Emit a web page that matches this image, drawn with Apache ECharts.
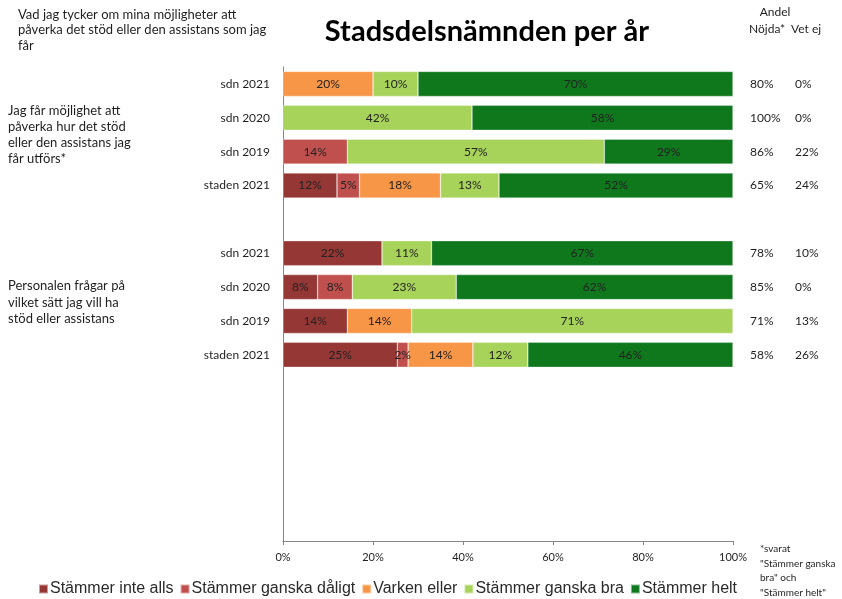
<!DOCTYPE html>
<html>
<head>
<meta charset="utf-8">
<script src="https://cdn.jsdelivr.net/npm/echarts@6/dist/echarts.min.js"></script>
<style>
    html, body { margin: 0; padding: 0; background: #fff; }
    #chart { width: 842px; height: 599px; }
</style>
</head>
<body>
<div id="chart"></div>
<script>
// kategorier uppifrån och ned (tomma platser = mellanrum i diagrammet)
var categories = ['sdn 2021', 'sdn 2020', 'sdn 2019', 'staden 2021', '',
                  'sdn 2021', 'sdn 2020', 'sdn 2019', 'staden 2021', '', '', '', '', ''];
var seriesNames = ['Stämmer inte alls', 'Stämmer ganska dåligt', 'Varken eller', 'Stämmer ganska bra', 'Stämmer helt'];
var inteAlls    = [null, null, null, 12, null, 22, 7.7, 14.3, 25.4, null, null, null, null, null];
var ganskaDalig = [null, null, 14.3, 5, null, null, 7.7, null, 2.4, null, null, null, null, null];
var varkenEller = [20, null, null, 18, null, null, null, 14.3, 14.4, null, null, null, null, null];
var ganskaBra   = [10, 42, 57.1, 13, null, 11, 23.1, 71.4, 12.2, null, null, null, null, null];
var helt        = [70, 58, 28.6, 52, null, 67, 61.5, null, 45.6, null, null, null, null, null];
var nojda = ['80%', '100%', '86%', '65%', '', '78%', '85%', '71%', '58%', '', '', '', '', ''];
var vetEj = ['0%', '0%', '22%', '24%', '', '10%', '0%', '13%', '26%', '', '', '', '', ''];
var xTicks = [0, 20, 40, 60, 80, 100];
var colors = ['#953735', '#C0504D', '#F79646', '#A8D35B', '#0F781D'];

var font = 'Lato, "Open Sans", sans-serif';
var textColor = '#1f1f1f';

var chart = echarts.init(document.getElementById('chart'));

var allData = [inteAlls, ganskaDalig, varkenEller, ganskaBra, helt];
var series = allData.map(function (d, i) {
    return {
        name: seriesNames[i],
        type: 'bar',
        stack: 'total',
        barWidth: 25,
        data: d,
        itemStyle: { color: colors[i], borderColor: 'rgba(255,255,255,0.5)', borderWidth: 0.6 },
        label: {
            show: true,
            position: 'inside',
            color: '#222',
            fontFamily: font,
            fontSize: 12,
            formatter: function (p) { return p.value ? Math.round(p.value) + '%' : ''; }
        },
        emphasis: { disabled: true }
    };
});

var option = {
    animation: false,
    textStyle: { fontFamily: font },
    grid: { left: 283, right: 109, top: 67, bottom: 58, containLabel: false },
    xAxis: {
        type: 'value',
        min: 0,
        max: 100,
        interval: 20,
        axisLine: { show: true, lineStyle: { color: '#868686' } },
        axisTick: { show: true, length: 4, lineStyle: { color: '#868686' } },
        splitLine: { show: false },
        axisLabel: {
            color: textColor, fontSize: 11, margin: 11, fontFamily: font,
            formatter: function (v) { return xTicks.indexOf(v) >= 0 ? v + '%' : ''; }
        }
    },
    yAxis: [{
        type: 'category',
        inverse: true,
        data: categories,
        axisLine: { show: true, lineStyle: { color: '#868686' } },
        axisTick: { show: false },
        axisLabel: { color: textColor, fontSize: 12, margin: 13, fontFamily: font }
    }, {
        type: 'category',
        inverse: true,
        position: 'right',
        data: nojda,
        axisLine: { show: false },
        axisTick: { show: false },
        axisLabel: { color: textColor, fontSize: 12, margin: 17, align: 'left', fontFamily: font, padding: [4, 0, 0, 0] }
    }, {
        type: 'category',
        inverse: true,
        position: 'right',
        data: vetEj,
        axisLine: { show: false },
        axisTick: { show: false },
        axisLabel: { color: textColor, fontSize: 12, margin: 62, align: 'left', fontFamily: font, padding: [0, 0, 2, 0] }
    }],
    legend: {
        data: seriesNames,
        left: 33,
        top: 576,
        itemWidth: 9,
        itemHeight: 9,
        itemGap: 6,
        icon: 'rect',
        textStyle: { fontFamily: '"Liberation Sans", Arial, sans-serif', fontSize: 16, color: '#2a2a2a', padding: [0, 0, 0, -3] }
    },
    graphic: [{
        type: 'text',
        x: 487, y: 17,
        style: { text: 'Stadsdelsnämnden per år', font: 'bold 29px ' + font, fill: '#000', align: 'center' }
    }, {
        type: 'text',
        x: 18, y: 7,
        style: {
            text: 'Vad jag tycker om mina möjligheter att\npåverka det stöd eller den assistans som jag\nfår',
            font: '13px ' + font, fill: textColor, lineHeight: 15.5
        }
    }, {
        type: 'text',
        x: 8, y: 103,
        style: {
            text: 'Jag får möjlighet att\npåverka hur det stöd\neller den assistans jag\nfår utförs*',
            font: '13px ' + font, fill: textColor, lineHeight: 16
        }
    }, {
        type: 'text',
        x: 8, y: 278,
        style: {
            text: 'Personalen frågar på\nvilket sätt jag vill ha\nstöd eller assistans',
            font: '13px ' + font, fill: textColor, lineHeight: 16.5
        }
    }, {
        type: 'text',
        x: 775, y: 6,
        style: { text: 'Andel', font: '12px ' + font, fill: textColor, align: 'center' }
    }, {
        type: 'text',
        x: 749, y: 23,
        style: { text: 'Nöjda*', font: '12px ' + font, fill: textColor }
    }, {
        type: 'text',
        x: 791, y: 23,
        style: { text: 'Vet ej', font: '12px ' + font, fill: textColor }
    }, {
        type: 'text',
        x: 760, y: 542,
        style: {
            text: '*svarat\n"Stämmer ganska\nbra" och\n"Stämmer helt"',
            font: '10px ' + font, fill: textColor, lineHeight: 14.5
        }
    }],
    series: series
};

chart.setOption(option);
</script>
</body>
</html>
